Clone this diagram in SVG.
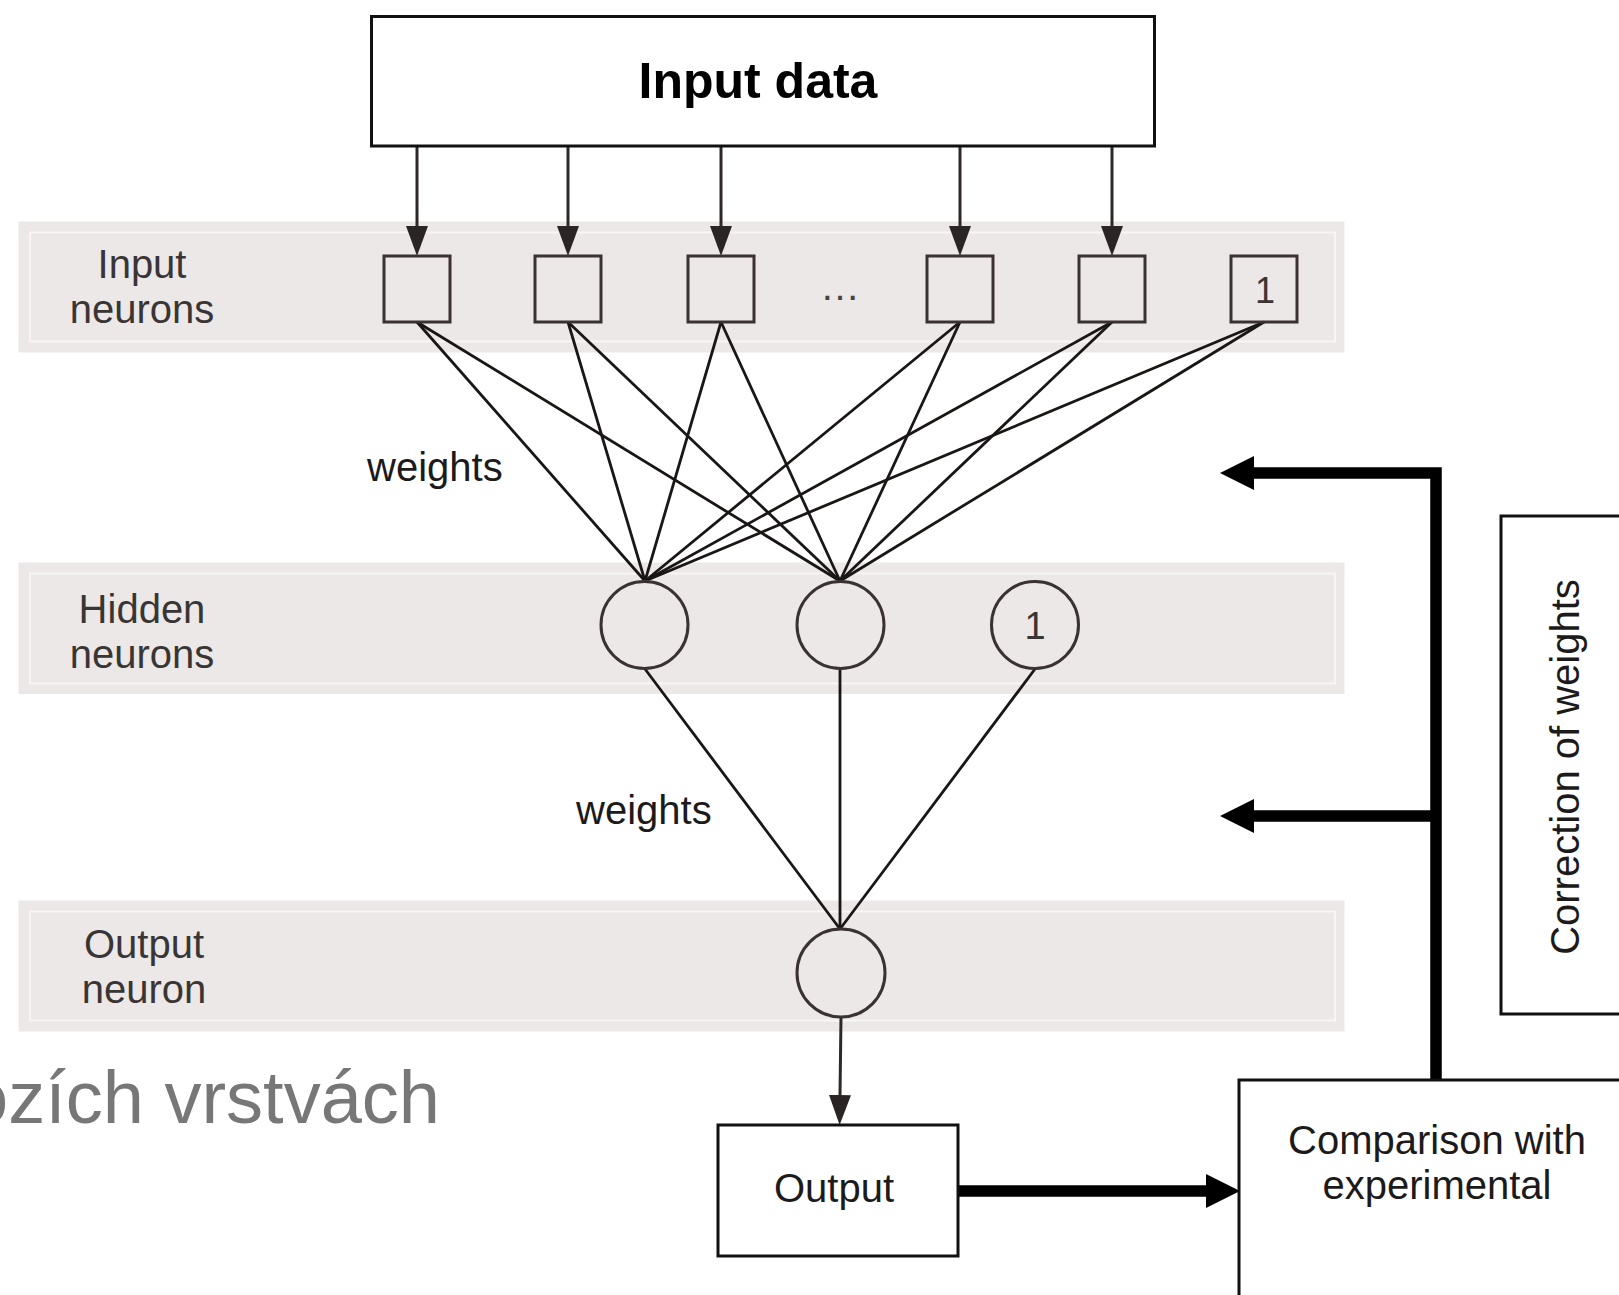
<svg xmlns="http://www.w3.org/2000/svg" width="1619" height="1295" viewBox="0 0 1619 1295">
  <style>
    text { font-family: "Liberation Sans", Arial, sans-serif; }
    .band { fill: #ebe8e7; }
    .band-inner { fill: none; stroke: #f8f6f5; stroke-width: 2; }
    .box { fill: #ffffff; stroke: #111111; stroke-width: 3; }
    .neuron { fill: none; stroke: #3a3232; stroke-width: 3; }
    .label { font-size: 40px; fill: #3a3535; text-anchor: middle; }
    .dark { font-size: 40px; fill: #1c1a1a; }
    .mid { text-anchor: middle; }
    .edge { stroke: #1a1616; stroke-width: 2.8; fill: none; }
    .feed { stroke: #2e2828; stroke-width: 3; fill: none; marker-end: url(#thin); }
    .thick { stroke: #000000; stroke-width: 11.5; fill: none; stroke-linejoin: miter; marker-end: url(#bold); }
  </style>
  <defs>
    <marker id="thin" markerUnits="userSpaceOnUse" markerWidth="30" markerHeight="22" refX="0" refY="11" orient="auto">
      <path d="M0,0 L30,11 L0,22 z" fill="#2a2424"/>
    </marker>
    <marker id="bold" markerUnits="userSpaceOnUse" markerWidth="34" markerHeight="34" refX="0" refY="17" orient="auto">
      <path d="M0,0 L34,17 L0,34 z" fill="#000000"/>
    </marker>
  </defs>

  <rect width="1619" height="1295" fill="#ffffff"/>

  <!-- layer bands -->
  <g id="band-input">
    <rect class="band" x="18.5" y="221.5" width="1326" height="131"/>
    <rect class="band-inner" x="30" y="232.5" width="1305" height="109"/>
    <text class="label" x="142" y="278">Input</text>
    <text class="label" x="142" y="323">neurons</text>
  </g>
  <g id="band-hidden">
    <rect class="band" x="18.5" y="562.5" width="1326" height="131.5"/>
    <rect class="band-inner" x="30" y="573.5" width="1305" height="110"/>
    <text class="label" x="142" y="623">Hidden</text>
    <text class="label" x="142" y="668">neurons</text>
  </g>
  <g id="band-output">
    <rect class="band" x="18.5" y="900.5" width="1326" height="131"/>
    <rect class="band-inner" x="30" y="911.5" width="1305" height="109"/>
    <text class="label" x="144" y="958">Output</text>
    <text class="label" x="144" y="1003">neuron</text>
  </g>

  <!-- slide caption running off the left edge -->
  <text x="-33" y="1123" font-size="74" fill="#777777">ozích vrstvách</text>

  <!-- connectors -->
  <g id="connectors">
    <line class="feed" x1="417" y1="147" x2="417" y2="226"/>
    <line class="feed" x1="568" y1="147" x2="568" y2="226"/>
    <line class="feed" x1="721" y1="147" x2="721" y2="226"/>
    <line class="feed" x1="960" y1="147" x2="960" y2="226"/>
    <line class="feed" x1="1112" y1="147" x2="1112" y2="226"/>

    <!-- input to hidden weights -->
    <line class="edge" x1="417" y1="322" x2="645" y2="581"/>
    <line class="edge" x1="417" y1="322" x2="840" y2="581"/>
    <line class="edge" x1="568" y1="322" x2="645" y2="581"/>
    <line class="edge" x1="568" y1="322" x2="840" y2="581"/>
    <line class="edge" x1="721" y1="322" x2="645" y2="581"/>
    <line class="edge" x1="721" y1="322" x2="840" y2="581"/>
    <line class="edge" x1="960" y1="322" x2="645" y2="581"/>
    <line class="edge" x1="960" y1="322" x2="840" y2="581"/>
    <line class="edge" x1="1112" y1="322" x2="645" y2="581"/>
    <line class="edge" x1="1112" y1="322" x2="840" y2="581"/>
    <line class="edge" x1="1264" y1="322" x2="645" y2="581"/>
    <line class="edge" x1="1264" y1="322" x2="840" y2="581"/>

    <!-- hidden to output weights -->
    <line class="edge" x1="645" y1="669" x2="840" y2="929"/>
    <line class="edge" x1="840" y1="669" x2="840" y2="929"/>
    <line class="edge" x1="1035" y1="669" x2="840" y2="929"/>

    <line class="feed" x1="841" y1="1017" x2="840" y2="1095"/>

    <!-- output to comparison -->
    <line class="thick" x1="958" y1="1191" x2="1206" y2="1191"/>

    <!-- weight correction feedback -->
    <path class="thick" d="M1436,1080 V473 H1254"/>
    <path class="thick" d="M1436,816 H1254"/>
  </g>

  <text class="dark" x="367" y="481">weights</text>
  <text class="dark" x="576" y="824">weights</text>

  <!-- nodes -->
  <g id="input-data">
    <rect class="box" x="371.5" y="16.5" width="783" height="129.5"/>
    <text x="758" y="98" font-size="50" font-weight="bold" fill="#000" text-anchor="middle">Input data</text>
  </g>

  <g id="in1"><rect class="neuron" x="384" y="256" width="66" height="66"/></g>
  <g id="in2"><rect class="neuron" x="535" y="256" width="66" height="66"/></g>
  <g id="in3"><rect class="neuron" x="688" y="256" width="66" height="66"/></g>
  <g id="in-more"><text x="840" y="300" font-size="40" fill="#444" text-anchor="middle">…</text></g>
  <g id="in4"><rect class="neuron" x="927" y="256" width="66" height="66"/></g>
  <g id="in5"><rect class="neuron" x="1079" y="256" width="66" height="66"/></g>
  <g id="in-bias">
    <rect class="neuron" x="1231" y="256" width="66" height="66"/>
    <text x="1265" y="303" font-size="36" fill="#3a3535" text-anchor="middle">1</text>
  </g>

  <g id="h1"><circle class="neuron" cx="644.5" cy="625" r="43.5"/></g>
  <g id="h2"><circle class="neuron" cx="840.5" cy="625" r="43.5"/></g>
  <g id="h-bias">
    <circle class="neuron" cx="1035" cy="625" r="43.5"/>
    <text x="1035" y="639" font-size="38" fill="#3a3535" text-anchor="middle">1</text>
  </g>

  <g id="out-neuron"><circle class="neuron" cx="841" cy="973" r="44"/></g>

  <g id="output">
    <rect class="box" x="718" y="1125" width="240" height="131"/>
    <text class="dark mid" x="834" y="1202">Output</text>
  </g>

  <g id="comparison">
    <rect class="box" x="1239" y="1080" width="420" height="260"/>
    <text class="dark mid" x="1437" y="1154">Comparison with</text>
    <text class="dark mid" x="1437" y="1199">experimental</text>
  </g>

  <g id="correction">
    <rect class="box" x="1501" y="516" width="200" height="498"/>
    <text class="dark mid" transform="translate(1579,767) rotate(-90)">Correction of weights</text>
  </g>
</svg>
